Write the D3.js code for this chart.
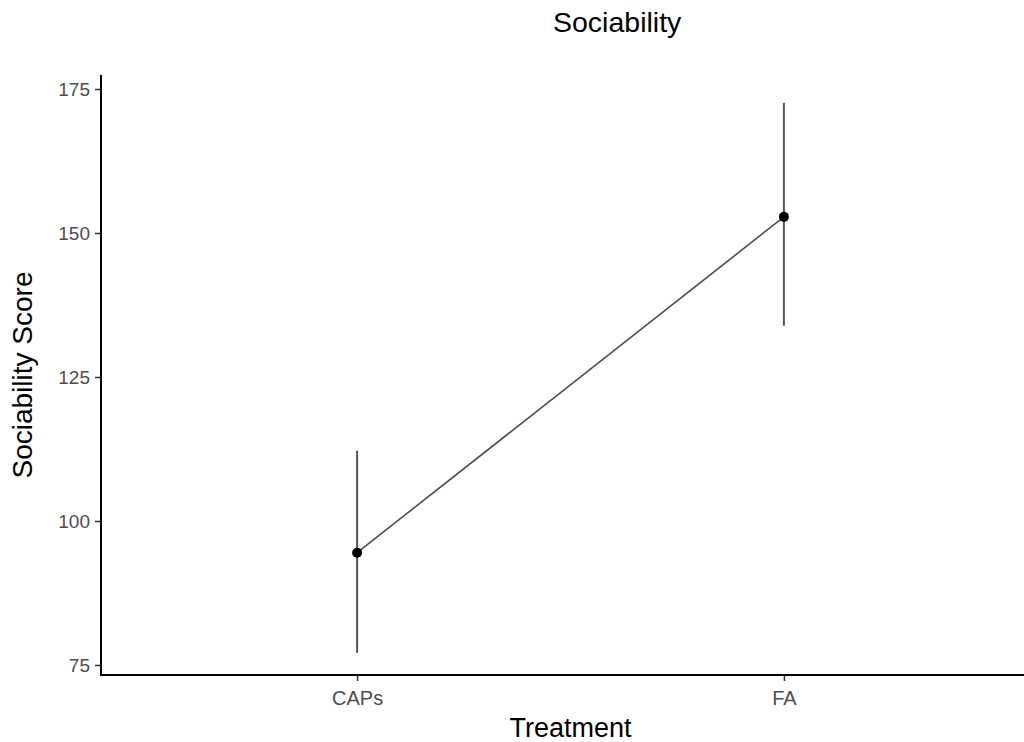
<!DOCTYPE html>
<html>
<head>
<meta charset="utf-8">
<script src="https://cdn.jsdelivr.net/npm/d3@7"></script>
<style>
  html, body { margin: 0; padding: 0; background: #fff; }
  svg { display: block; font-family: "Liberation Sans", Arial, Helvetica, sans-serif; }
</style>
</head>
<body>
<svg id="chart" width="1024" height="742"></svg>
<script>
// Mean sociability score per treatment, with error bar limits
const treatments = ["CAPs", "FA"];
const means = [94.5, 152.8];
const lowers = [77.1, 133.9];
const uppers = [112.2, 172.6];
const yTicks = [75, 100, 125, 150, 175];

const svg = d3.select("#chart");
const panel = { left: 101, right: 1040, top: 75, bottom: 675 };

const x = d3.scalePoint()
  .domain(treatments)
  .range([panel.left, panel.right])
  .padding(0.6);

const y = d3.scaleLinear()
  .domain([73.26, 177.43])
  .range([panel.bottom, panel.top]);

const rows = treatments.map((t, i) => ({ t, mean: means[i], lo: lowers[i], hi: uppers[i] }));

// Title
svg.append("text")
  .attr("x", 553).attr("y", 32)
  .attr("font-size", 28.5)
  .attr("fill", "#000")
  .text("Sociability");

// Y axis
const yAxis = svg.append("g")
  .attr("transform", `translate(${panel.left},0)`)
  .call(d3.axisLeft(y).tickValues(yTicks).tickSize(6).tickPadding(5).tickFormat(d3.format("d")));
yAxis.select(".domain").remove();
yAxis.selectAll(".tick line").attr("stroke", "#333").attr("stroke-width", 1.5);
yAxis.selectAll(".tick text").attr("font-size", 19).attr("fill", "#4d4d4d")
  .attr("font-family", "Liberation Sans, Arial, sans-serif");

// X axis
const xAxis = svg.append("g")
  .attr("transform", `translate(0,${panel.bottom})`)
  .call(d3.axisBottom(x).tickSize(6).tickPadding(5));
xAxis.select(".domain").remove();
xAxis.selectAll(".tick line").attr("stroke", "#333").attr("stroke-width", 1.5);
xAxis.selectAll(".tick text").attr("font-size", 20).attr("fill", "#4d4d4d")
  .attr("font-family", "Liberation Sans, Arial, sans-serif")
  .attr("dy", "0.95em");

// Axis lines
svg.append("path")
  .attr("d", `M${panel.left},${panel.top}V${panel.bottom}H${panel.right}`)
  .attr("fill", "none")
  .attr("stroke", "#000")
  .attr("stroke-width", 2);

// Error bars
svg.append("g").selectAll("line")
  .data(rows).join("line")
  .attr("x1", d => x(d.t)).attr("x2", d => x(d.t))
  .attr("y1", d => y(d.lo)).attr("y2", d => y(d.hi))
  .attr("stroke", "#555")
  .attr("stroke-width", 2);

// Line joining the means
svg.append("path")
  .datum(rows)
  .attr("d", d3.line().x(d => x(d.t)).y(d => y(d.mean)))
  .attr("fill", "none")
  .attr("stroke", "#4d4d4d")
  .attr("stroke-width", 1.6);

// Mean points
svg.append("g").selectAll("circle")
  .data(rows).join("circle")
  .attr("cx", d => x(d.t)).attr("cy", d => y(d.mean))
  .attr("r", 5)
  .attr("fill", "#000");

// Axis titles
svg.append("text")
  .attr("x", (panel.left + panel.right) / 2).attr("y", 737)
  .attr("text-anchor", "middle")
  .attr("font-size", 27)
  .attr("fill", "#000")
  .text("Treatment");

svg.append("text")
  .attr("transform", `translate(32,${(panel.top + panel.bottom) / 2}) rotate(-90)`)
  .attr("text-anchor", "middle")
  .attr("font-size", 28)
  .attr("fill", "#000")
  .text("Sociability Score");
</script>
</body>
</html>
